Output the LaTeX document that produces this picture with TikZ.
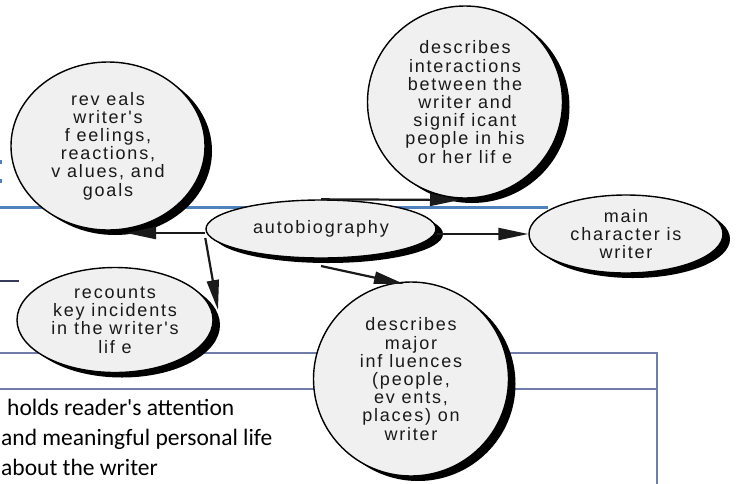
\documentclass[tikz,border=0pt]{standalone}
\usepackage{fontspec}
\setmainfont{Liberation Sans}
\newfontfamily\nodefont[LetterSpace=10]{Liberation Sans}
\newfontfamily\slidefont{Carlito}
\usetikzlibrary{arrows.meta,shadows,shapes.geometric}
\definecolor{nodefill}{HTML}{F0F0F0}
\definecolor{lineblue}{HTML}{4F81BD}
\definecolor{slate}{RGB}{112,124,170}
\definecolor{darknavy}{RGB}{55,60,90}
\definecolor{arrowdark}{HTML}{1A1A1A}
\begin{document}
\begin{tikzpicture}[x=1pt,y=-1pt,
  bubble/.style={ellipse, draw=black, line width=1.4pt, fill=nodefill, inner xsep=0pt, inner ysep=-20pt, align=center,
    font=\nodefont\fontsize{18}{18.2}\selectfont, text=black!90,
    drop shadow={shadow xshift=7pt,shadow yshift=-5pt,fill=black,opacity=1}},
  conn/.style={draw=arrowdark, line width=2.2pt, -{Triangle[length=30pt,width=12pt]}},
  bgline/.style={line width=2.5pt},
  slidetext/.style={anchor=base west, inner sep=0pt, font=\slidefont\fontsize{23.5}{30}\selectfont}]
\useasboundingbox (0,0) rectangle (741,483);
% background slide remnants
\draw[bgline, lineblue, line width=3pt] (0,207) -- (548,207);
\fill[lineblue] (0,160) rectangle (2,164);
\fill[lineblue] (0,179) rectangle (2,183);
\draw[bgline, darknavy] (0,281) -- (19,281);
\draw[bgline, slate] (0,353) -- (657,353) -- (657,484);
\draw[bgline, slate] (0,389) -- (657,389);
% bubbles
\node[bubble, minimum width=194pt, minimum height=168pt] (rev) at (108,146)
  {rev eals\\writer's\\f eelings,\\reactions,\\v alues, and\\goals};
\node[bubble, minimum width=195pt, minimum height=192pt] (inter) at (465,102)
  {describes\\interactions\\between the\\writer and\\signif icant\\people in his\\or her lif e};
\node[bubble, minimum width=230pt, minimum height=58pt] (main) at (321,229) {autobiography};
\node[bubble, minimum width=194pt, minimum height=78pt] (mc) at (626,234) {main\\character is\\writer};
\node[bubble, minimum width=196pt, minimum height=105pt] (rec) at (115,320)
  {recounts\\key incidents\\in the writer's\\lif e};
\node[bubble, minimum width=195pt, minimum height=194pt] (inf) at (411,379)
  {describes\\major\\inf luences\\(people,\\ev ents,\\places) on\\writer};
% connector ends
\coordinate (revtip) at (126,233);
\coordinate (intertip) at (460,200);
\coordinate (rectip) at (218,310);
\coordinate (inftip) at (404,284);
% connectors
\draw[conn] ([yshift=-4pt]main.west) -- (revtip);
\draw[conn] (main.north) -- (intertip);
\draw[conn] ([yshift=-5pt]main.east) -- ([yshift=-5pt]main.east -| mc.west);
\draw[conn] ([yshift=-9pt]main.west) -- (rectip);
\draw[conn] ([yshift=-37pt]main.center) -- (inftip);
% slide text
\node[slidetext] (t1) at (7,415) {holds reader's attention};
\node[slidetext] (t2) at (1,445) {and meaningful personal life};
\node[slidetext] (t3) at (1,475) {about the writer};
\end{tikzpicture}
\end{document}
